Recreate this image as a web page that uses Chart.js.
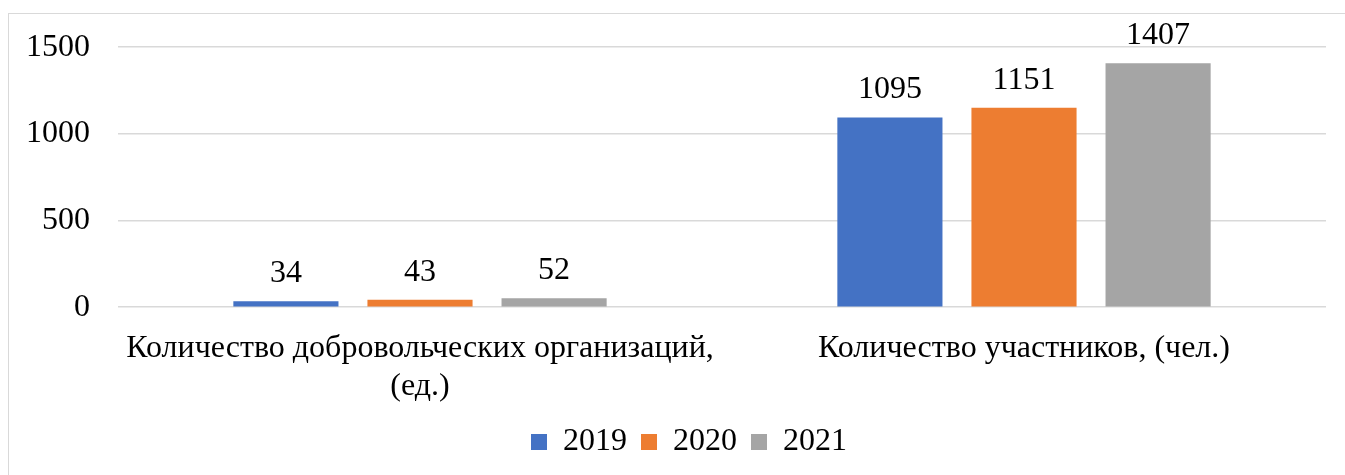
<!DOCTYPE html>
<html>
<head>
<meta charset="utf-8">
<script src="https://cdn.jsdelivr.net/npm/chart.js@4"></script>
<style>
    html, body { margin: 0; padding: 0; background: #fff; overflow: hidden; }
    #wrap { position: relative; width: 1345px; height: 475px; }
    #frame {
        position: absolute; left: 8px; top: 13px; width: 1400px; height: 500px;
        border: 1.5px solid #d9d9d9; box-sizing: border-box;
    }
    canvas { position: absolute; left: 0; top: 0; }
</style>
</head>
<body>
<div id="wrap">
    <div id="frame"></div>
    <canvas id="volunteer-chart" width="1345" height="475"></canvas>
</div>
<script>
const categories = [
    ['Количество добровольческих организаций,', '(ед.)'],
    'Количество участников, (чел.)',
];
const years = ['2019', '2020', '2021'];
const values2019 = [34, 1095];
const values2020 = [43, 1151];
const values2021 = [52, 1407];
const yTicks = [0, 500, 1000, 1500];

const FONT = 'Liberation Serif, Times New Roman, serif';
const FONT_SIZE = 32;

// draws the value above each bar
const valueLabels = {
    id: 'valueLabels',
    afterDatasetsDraw(chart) {
        const ctx = chart.ctx;
        ctx.save();
        ctx.font = FONT_SIZE + 'px ' + FONT;
        ctx.fillStyle = '#000';
        ctx.textAlign = 'center';
        ctx.textBaseline = 'alphabetic';
        chart.data.datasets.forEach((ds, i) => {
            chart.getDatasetMeta(i).data.forEach((bar, j) => {
                ctx.fillText(String(ds.data[j]), bar.x, bar.y - 19);
            });
        });
        ctx.restore();
    },
};

function createChart(canvas) {
    return new Chart(canvas, {
        type: 'bar',
        data: {
            labels: categories,
            datasets: [
                { label: years[0], data: values2019, backgroundColor: '#4472c4' },
                { label: years[1], data: values2020, backgroundColor: '#ed7d31' },
                { label: years[2], data: values2021, backgroundColor: '#a5a5a5' },
            ],
        },
        plugins: [valueLabels],
        options: {
            responsive: false,
            animation: false,
            categoryPercentage: 0.666,
            barPercentage: 0.784,
            layout: {
                padding: { left: 8, right: 19, top: 20, bottom: 7 },
            },
            plugins: {
                legend: {
                    position: 'bottom',
                    labels: {
                        color: '#000',
                        boxWidth: 16,
                        boxHeight: 16,
                        padding: 14,
                        font: { family: FONT, size: FONT_SIZE },
                    },
                },
                tooltip: { enabled: false },
            },
            scales: {
                y: {
                    min: 0,
                    max: 1500,
                    afterBuildTicks(scale) {
                        scale.ticks = yTicks.map((v) => ({ value: v }));
                    },
                    afterFit(scale) {
                        scale.width = 110;
                    },
                    border: { display: false },
                    grid: {
                        color: '#d9d9d9',
                        lineWidth: 1.5,
                        drawTicks: false,
                    },
                    ticks: {
                        color: '#000',
                        padding: 28,
                        font: { family: FONT, size: FONT_SIZE },
                        callback: (value) => String(value),
                    },
                },
                x: {
                    border: { display: false },
                    grid: { display: false },
                    afterFit(scale) {
                        scale.height -= 8;
                    },
                    ticks: {
                        color: '#000',
                        padding: 14,
                        maxRotation: 0,
                        autoSkip: false,
                        font: { family: FONT, size: FONT_SIZE, lineHeight: 1.2 },
                    },
                },
            },
        },
    });
}

const chart = createChart(document.getElementById('volunteer-chart'));

// Excel puts the legend a little further right than Chart.js centres it
const drawLegend = chart.legend.draw;
chart.legend.draw = function () {
    this.ctx.save();
    this.ctx.translate(22, 0);
    drawLegend.call(this);
    this.ctx.restore();
};
chart.draw();
</script>
</body>
</html>
